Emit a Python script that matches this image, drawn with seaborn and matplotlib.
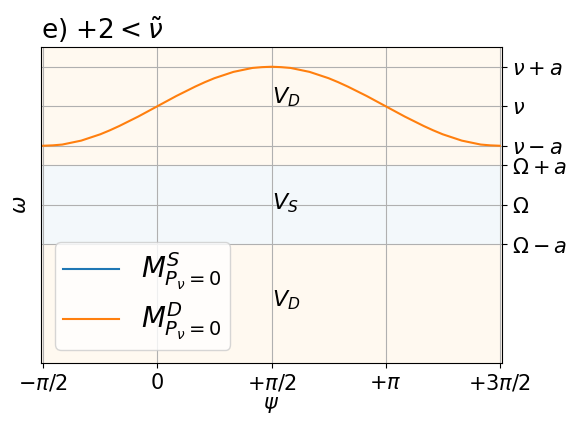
import numpy as np
import pandas as pd
import matplotlib
matplotlib.use("Agg")
import matplotlib.pyplot as plt
import seaborn as sns

# ---------------------------------------
# data
# ---------------------------------------
# psi in degrees, omega of M^D curve (Omega = 0, a = 1, nu = 2.5)
psi_deg = [-90, -82.5, -75, -67.5, -60, -52.5, -45, -37.5, -30, -22.5, -15, -7.5,
           0, 7.5, 15, 22.5, 30, 37.5, 45, 52.5, 60, 67.5, 75, 82.5,
           90, 97.5, 105, 112.5, 120, 127.5, 135, 142.5, 150, 157.5, 165, 172.5,
           180, 187.5, 195, 202.5, 210, 217.5, 225, 232.5, 240, 247.5, 255, 262.5, 270]
omega_D = [1.50, 1.51, 1.53, 1.58, 1.63, 1.71, 1.79, 1.89, 2.00, 2.12, 2.24, 2.37,
           2.50, 2.63, 2.76, 2.88, 3.00, 3.11, 3.21, 3.29, 3.37, 3.42, 3.47, 3.49,
           3.50, 3.49, 3.47, 3.42, 3.37, 3.29, 3.21, 3.11, 3.00, 2.88, 2.76, 2.63,
           2.50, 2.37, 2.24, 2.12, 2.00, 1.89, 1.79, 1.71, 1.63, 1.58, 1.53, 1.51, 1.50]

x_ticks = [-0.5, 0, 0.5, 1, 1.5]  # multiples of pi
x_labels = [r"$-\pi/2$", r"$0$", r"$+\pi/2$", r"$+\pi$", r"$+3\pi/2$"]
y_ticks = [3.5, 2.5, 1.5, 1.0, 0.0, -1.0]
y_labels = [r"$\nu + a$", r"$\nu$", r"$\nu - a$", r"$\Omega + a$", r"$\Omega$", r"$\Omega - a$"]

# regions
regions_low = [1.0, -1.0, -4.0]
regions_high = [4.0, 1.0, -1.0]
region_names = [r"$V_D$", r"$V_S$", r"$V_D$"]
region_label_y = [2.72, 0.05, -2.4]
region_colors = ["orange", "tab:blue", "orange"]
region_alpha = [0.06, 0.05, 0.06]

df = pd.DataFrame({"psi": np.deg2rad(psi_deg), "omega": omega_D})

# ---------------------------------------
# plot
# ---------------------------------------
fig = plt.figure(figsize=(5.81, 4.36), dpi=100)
ax = fig.add_axes([41 / 581, 1 - 363 / 436, 461 / 581, 316 / 436])

xmin, xmax = -np.pi / 2 - 0.03, 3 * np.pi / 2 + 0.03
for lo, hi, c, al in zip(regions_low, regions_high, region_colors, region_alpha):
    ax.fill_between([xmin, xmax], lo, hi, color=c, alpha=al, lw=0)

for name, yy in zip(region_names, region_label_y):
    ax.text(np.pi / 2, yy, name, fontsize=16, va="center", ha="left")

ax.plot([], [], color="tab:blue", label=r"$M^S_{P_\nu=0}$")
sns.lineplot(data=df, x="psi", y="omega", color="tab:orange", ax=ax,
             label=r"$M^D_{P_\nu=0}$", lw=1.5)

ax.set_xlim(xmin, xmax)
ax.set_ylim(-4, 4)
ax.set_xticks([t * np.pi for t in x_ticks])
ax.set_xticklabels(x_labels, fontsize=15)
ax.yaxis.tick_right()
ax.set_yticks(y_ticks)
ax.set_yticklabels(y_labels, fontsize=15)
ax.grid(True, color="#b0b0b0", lw=0.8)
ax.set_xlabel(r"$\psi$", fontsize=15, labelpad=1)
ax.set_ylabel(r"$\omega$", fontsize=15, labelpad=8)
ax.yaxis.set_label_position("left")
ax.set_title(r"e) $+2 < \tilde{\nu}$", loc="left", fontsize=19, pad=6)

ax.legend(loc="lower left", bbox_to_anchor=(14 / 461, 13 / 316), borderaxespad=0,
          fontsize=20, handlelength=2.0, borderpad=0.3, labelspacing=0.3)

plt.savefig("out.png", dpi=100)
plt.close()
